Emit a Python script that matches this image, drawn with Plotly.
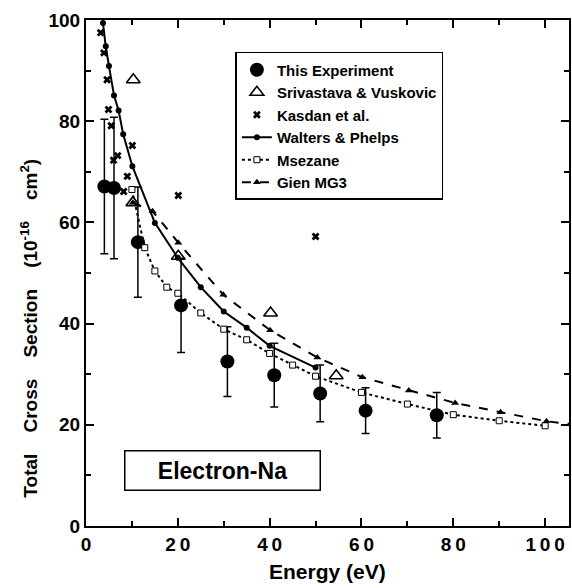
import plotly.graph_objects as go

# ---- data ----
exp_E = [4.0, 6.1, 11.3, 20.7, 30.8, 41.0, 51.0, 60.9, 76.4]
exp_y = [67.1, 66.8, 56.1, 43.6, 32.5, 29.8, 26.2, 22.8, 21.9]
exp_err = [13.3, 14.0, 10.9, 9.3, 6.9, 6.3, 5.6, 4.5, 4.5]

sv_E = [10.3, 10.2, 20.1, 40.2, 54.5]
sv_y = [88.2, 63.9, 53.3, 42.1, 29.7]

kas_E = [3.2, 3.9, 4.6, 4.9, 5.5, 6.0, 6.9, 8.2, 9.0, 10.1, 20.1, 50.0]
kas_y = [97.5, 93.5, 88.2, 82.3, 79.1, 72.3, 73.2, 66.1, 69.1, 75.2, 65.3, 57.2]

wp_E = [3.7, 4.3, 5.0, 6.1, 7.1, 8.1, 10.1, 15, 20, 25, 30, 35, 40, 50]
wp_y = [99.4, 94.8, 90.9, 85.1, 82.1, 77.4, 71.1, 59.9, 53.0, 47.2, 42.4, 39.2, 35.6, 31.3]

ms_E = [10, 12.8, 15, 17.6, 20, 25, 30, 35, 40, 45, 50, 60, 70, 80, 90, 100]
ms_y = [66.5, 55.0, 50.4, 47.2, 46.0, 42.1, 38.9, 36.8, 34.1, 31.8, 29.6, 26.4, 24.1, 22.0, 20.8, 19.8]

gien_E = [10.2, 14.5, 20.1, 29.9, 40.1, 50.4, 60.2, 70.3, 80.4, 90.3, 100.3, 108]
gien_y = [63.9, 62.2, 56.0, 45.7, 38.7, 33.3, 29.4, 26.8, 24.3, 22.5, 20.7, 19.9]

x_ticks = [0, 20, 40, 60, 80, 100]
x_ticktext = ["0", "2\u20090", "4\u20090", "6\u20090", "8\u20090", "1\u20090\u20090"]
y_ticks = [0, 20, 40, 60, 80, 100]
y_ticktext = ["0", "20", "40", "60", "80", "100"]

FONT = "Liberation Sans, Arial, Helvetica, sans-serif"
SP = "\u00a0" * 4

fig = go.Figure()

fig.add_trace(go.Scatter(
    x=exp_E, y=exp_y, mode="markers", name="This Experiment",
    marker=dict(symbol="circle", size=14, color="black"),
    error_y=dict(type="data", array=exp_err, visible=True, color="black",
                 thickness=1.5, width=4),
))
fig.add_trace(go.Scatter(
    x=sv_E, y=sv_y, mode="markers", name="Srivastava & Vuskovic",
    marker=dict(symbol="triangle-up-open", size=12, color="black",
                line=dict(width=1.6, color="black")),
))
fig.add_trace(go.Scatter(
    x=kas_E, y=kas_y, mode="markers", name="Kasdan et al.",
    marker=dict(symbol="x", size=7, color="black", line=dict(width=0)),
))
fig.add_trace(go.Scatter(
    x=wp_E, y=wp_y, mode="lines+markers", name="Walters & Phelps",
    line=dict(color="black", width=2),
    marker=dict(symbol="circle", size=6, color="black"),
))
fig.add_trace(go.Scatter(
    x=ms_E, y=ms_y, mode="lines+markers", name="Msezane",
    line=dict(color="black", width=2, dash="dot"),
    marker=dict(symbol="square", size=6, color="white",
                line=dict(width=1, color="black")),
))
fig.add_trace(go.Scatter(
    x=gien_E, y=gien_y, mode="lines+markers", name="Gien MG3",
    line=dict(color="black", width=2, dash="dash"),
    marker=dict(symbol="triangle-up", size=7, color="black"),
))

axis_common = dict(
    showgrid=False, zeroline=False, showline=True, linecolor="black",
    linewidth=2, mirror="ticks", ticks="inside", ticklen=8, tickwidth=1.5,
    tickcolor="black",
    tickfont=dict(family=FONT, size=19, color="black", weight="bold"),
)

fig.update_xaxes(range=[0, 105.2], tickmode="array", tickvals=x_ticks,
                 ticktext=x_ticktext,
                 minor=dict(dtick=10, tick0=0, ticks="inside", ticklen=5,
                            tickwidth=1.5, tickcolor="black"),
                 **axis_common)
fig.update_yaxes(range=[0, 100], tickmode="array", tickvals=y_ticks,
                 ticktext=y_ticktext,
                 minor=dict(dtick=10, tick0=0, ticks="inside", ticklen=5,
                            tickwidth=1.5, tickcolor="black"),
                 **axis_common)

fig.update_layout(
    width=572, height=588,
    margin=dict(l=86, r=1, t=20, b=62),
    paper_bgcolor="white", plot_bgcolor="white",
    font=dict(family=FONT, color="black"),
    showlegend=True,
    legend=dict(
        x=0.3093, y=0.9368, xanchor="left", yanchor="top",
        bgcolor="white", bordercolor="black", borderwidth=1.5,
        font=dict(family=FONT, size=15, color="black", weight="bold"),
        tracegroupgap=0,
    ),
    annotations=[
        dict(text="Electron-Na", xref="paper", yref="paper",
             x=0.2825, y=0.1087, xanchor="center", yanchor="middle",
             showarrow=False, width=194, height=38,
             bordercolor="black", borderwidth=1.5, borderpad=0,
             bgcolor="white",
             font=dict(family=FONT, size=23, color="black", weight="bold")),
        dict(text="Energy (eV)", xref="paper", yref="paper",
             x=0.5, y=-0.0909, xanchor="center", yanchor="middle",
             showarrow=False,
             font=dict(family=FONT, size=21, color="black", weight="bold")),
        dict(text="Total" + SP + "Cross" + SP + "Section" + SP + "(10<sup>-16</sup>" + SP + "cm<sup>2</sup>)",
             xref="paper", yref="paper", x=-0.118, y=0.39,
             xanchor="center", yanchor="middle", textangle=-90,
             showarrow=False,
             font=dict(family=FONT, size=19, color="black", weight="bold")),
    ],
)

fig.write_html("out.html")
